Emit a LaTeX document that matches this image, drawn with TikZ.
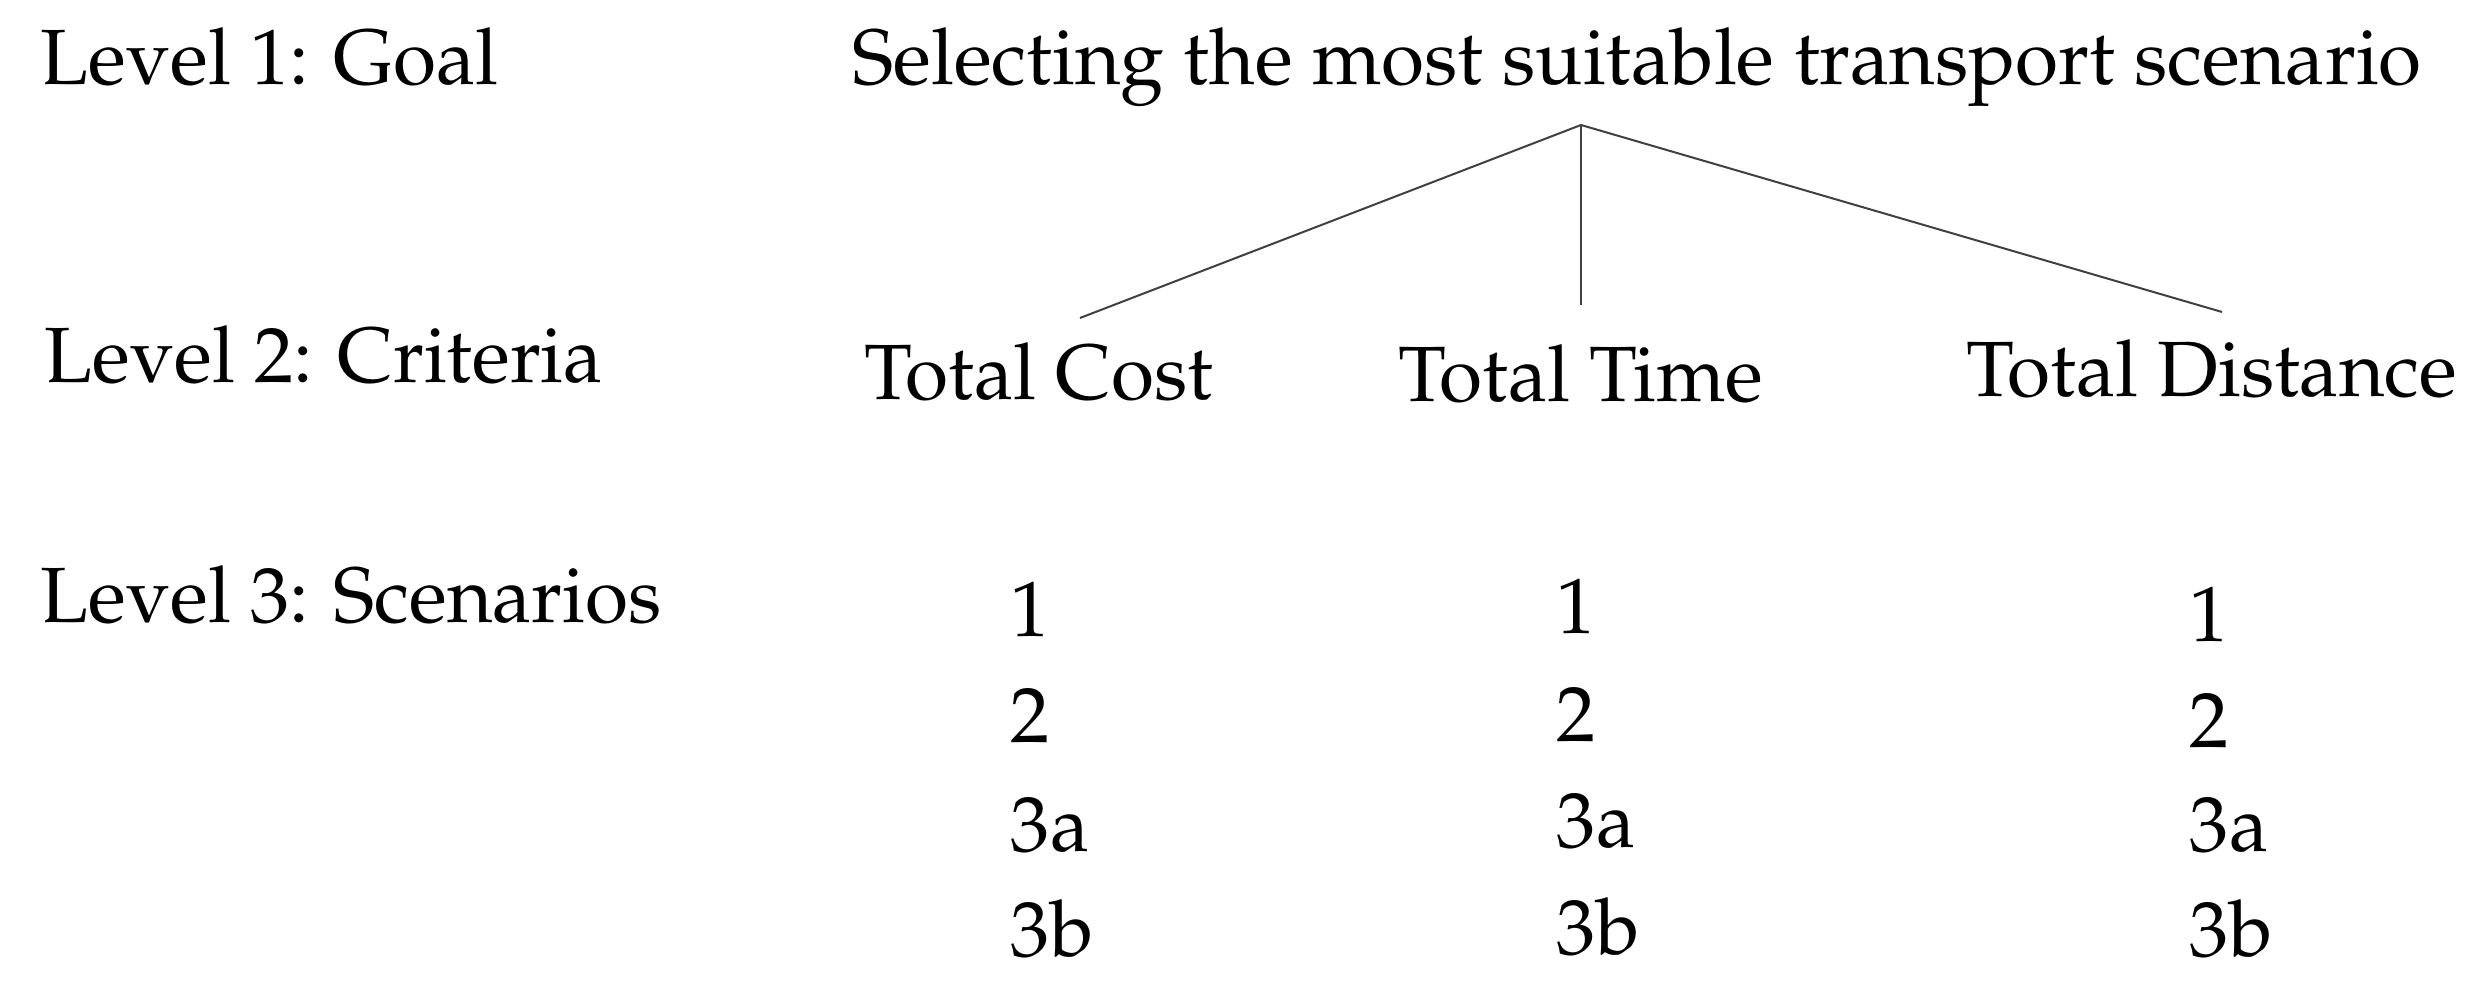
\documentclass[tikz,border=0pt]{standalone}
\usepackage[T1]{fontenc}
\usepackage{mathpazo}
\begin{document}
\begin{tikzpicture}[x=0.25pt,y=-0.25pt,
  lbl/.style={anchor=base west,inner sep=0pt,font=\fontsize{19.6}{24}\selectfont},
  link/.style={line width=0.5pt,draw=black!75}]
\useasboundingbox (0,0) rectangle (2467,992);
\node[lbl] (l1) at (40,85) {Level 1: Goal};
\node[lbl] (goal) at (852,85) {Selecting the most suitable transport scenario};
\node[lbl] (l2) at (44,383) {Level 2: Criteria};
\node[lbl] (cost) at (864,400) {Total Cost};
\node[lbl] (time) at (1398,402) {Total Time};
\node[lbl] (dist) at (1966,397) {Total Distance};
\node[lbl] (l3) at (40,623) {Level 3: Scenarios};
% scenarios
\node[lbl] (c1a) at (1010,637) {1};
\node[lbl] (c1b) at (1010,743) {2};
\node[lbl] (c1c) at (1010,852) {3a};
\node[lbl] (c1d) at (1010,957) {3b};
\node[lbl] (c2a) at (1556,634) {1};
\node[lbl] (c2b) at (1556,742) {2};
\node[lbl] (c2c) at (1556,848) {3a};
\node[lbl] (c2d) at (1556,955) {3b};
\node[lbl] (c3a) at (2189,642) {1};
\node[lbl] (c3b) at (2189,748) {2};
\node[lbl] (c3c) at (2189,852) {3a};
\node[lbl] (c3d) at (2189,957) {3b};
% connectors
\coordinate (apex) at (1581,125);
\coordinate (ecost) at (1080,318);
\coordinate (etime) at (1581,305);
\coordinate (edist) at (2222,312);
\draw[link] (apex) -- (ecost);
\draw[link] (apex) -- (etime);
\draw[link] (apex) -- (edist);
\end{tikzpicture}
\end{document}
